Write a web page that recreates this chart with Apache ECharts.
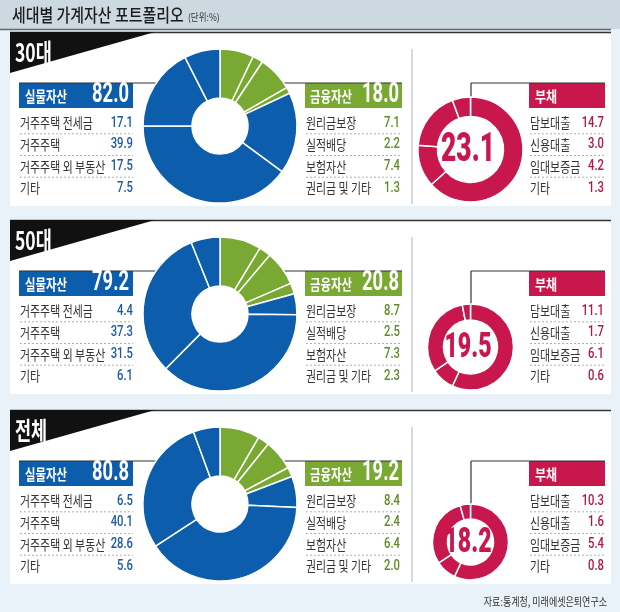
<!DOCTYPE html>
<html>
<head>
<meta charset="utf-8">
<script src="https://cdn.jsdelivr.net/npm/echarts@6/dist/echarts.min.js"></script>
<style>
  html, body { margin: 0; padding: 0; background: #e9f2f8; }
  #main { width: 620px; height: 612px; }
</style>
</head>
<body>
<div id="main"></div>
<script>
// data
var groups = ['30대', '50대', '전체'];
var realLabels = ['거주주택 전세금', '거주주택', '거주주택 외 부동산', '기타'];
var finLabels = ['원리금보장', '실적배당', '보험자산', '권리금 및 기타'];
var debtLabels = ['담보대출', '신용대출', '임대보증금', '기타'];
var realTotal = [82.0, 79.2, 80.8];
var finTotal = [18.0, 20.8, 19.2];
var debtTotal = [23.1, 19.5, 18.2];
var realValues = [[17.1, 39.9, 17.5, 7.5], [4.4, 37.3, 31.5, 6.1], [6.5, 40.1, 28.6, 5.6]];
var finValues = [[7.1, 2.2, 7.4, 1.3], [8.7, 2.5, 7.3, 2.3], [8.4, 2.4, 6.4, 2.0]];
var debtValues = [[14.7, 3.0, 4.2, 1.3], [11.1, 1.7, 6.1, 0.6], [10.3, 1.6, 5.4, 0.8]];

// layout
var BLUE = '#0c5dab', GREEN = '#79a833', RED = '#c8174c';
var panelTop = [32, 220, 410];
var debtR = [[33, 52.5], [27, 43], [23, 38]];
var debtFont = [40, 35, 35];
var KR = '"Noto Sans CJK KR", "Noto Sans", sans-serif';
var NUM = 'Roboto, "Noto Sans", sans-serif';

var chartDom = document.getElementById('main');
var myChart = echarts.init(chartDom);
var option;

var g = [];
var series = [];

function txt(x, y, s, o) {
  o = o || {};
  var sx = o.sx || 1;
  g.push({
    type: 'text', x: x, y: y, z: 10,
    scaleX: sx, scaleY: 1, scale: [sx, 1], originX: 0, originY: 0,
    style: {
      x: 0, y: 0, text: s,
      fill: o.color || '#333',
      font: (o.weight || 'normal') + ' ' + (o.size || 14) + 'px ' + (o.family || KR),
      textAlign: o.align || 'left',
      textVerticalAlign: 'middle'
    }
  });
}
function line(x1, y1, x2, y2, color, w, dash) {
  g.push({
    type: 'line', z: 6,
    shape: { x1: x1, y1: y1, x2: x2, y2: y2 },
    style: { stroke: color, lineWidth: w, lineDash: dash || null }
  });
}
function rect(x, y, w, h, fill, z) {
  g.push({ type: 'rect', z: z || 1, shape: { x: x, y: y, width: w, height: h }, style: { fill: fill } });
}

// title band
rect(0, 0, 620, 29, '#cdd9e0');
line(0, 29.5, 611, 29.5, '#666', 1.5);
txt(12, 15, '세대별 가계자산 포트폴리오', { size: 18, color: '#1c1c1c', weight: 500, sx: 0.83 });
txt(188, 17, '(단위:%)', { size: 10, color: '#333', sx: 0.85 });

function table(x1, x2, T, labels, vals, vcolor) {
  for (var k = 0; k < labels.length; k++) {
    var y = T + 91 + k * 21.7;
    txt(x1, y, labels[k], { size: 14, color: '#333', sx: 0.78 });
    txt(x2, y, vals[k].toFixed(1), { size: 15, color: vcolor, weight: 500, family: NUM, sx: 0.75, align: 'right' });
    if (k < labels.length - 1) line(x1, y + 10.8, x2, y + 10.8, '#b0b0b0', 1, [2, 2]);
  }
}

for (var i = 0; i < groups.length; i++) {
  var T = panelTop[i];
  var cy = T + 94;
  rect(10, T, 601, 174, '#ffffff', 0);
  line(10, T + 0.5, 611, T + 0.5, '#333', 1.5);
  g.push({ type: 'polygon', z: 7, shape: { points: [[10, T], [155, T], [10, T + 41]] }, style: { fill: '#111' } });
  txt(15, T + 20, groups[i], { size: 25, color: '#fff', weight: 'bold', sx: 0.7 });

  // real assets box
  line(19, T + 51, 156, T + 51, '#333', 1.2);
  rect(19, T + 51, 114, 25, BLUE, 5);
  txt(25, T + 64, '실물자산', { size: 15, color: '#fff', weight: 'bold', sx: 0.76 });
  txt(129, T + 63.5, realTotal[i].toFixed(1), { size: 27, color: '#fff', weight: 'bold', family: NUM, sx: 0.68, align: 'right' });
  table(20, 133, T, realLabels, realValues[i], '#1a5aa6');

  // financial assets box
  line(284, T + 51, 402, T + 51, '#333', 1.2);
  rect(305, T + 51, 97, 25, GREEN, 5);
  txt(310, T + 64, '금융자산', { size: 15, color: '#fff', weight: 'bold', sx: 0.76 });
  txt(399, T + 63.5, finTotal[i].toFixed(1), { size: 27, color: '#fff', weight: 'bold', family: NUM, sx: 0.68, align: 'right' });
  table(306, 400, T, finLabels, finValues[i], '#5c8c26');

  // separator
  line(412, T + 17, 412, T + 172, '#c5ced6', 1.5);

  // debt
  var dr = debtR[i];
  var dcy = T + 170 - dr[1];
  line(471, T + 51, 605, T + 51, '#333', 1.2);
  line(471, T + 51, 471, dcy - dr[1] + 1, '#333', 1.2);
  rect(529, T + 51, 76, 25, RED, 5);
  txt(535, T + 64, '부채', { size: 15, color: '#fff', weight: 'bold', sx: 0.8 });
  table(530, 604, T, debtLabels, debtValues[i], '#b3154a');
  txt(468, dcy + 1, debtTotal[i].toFixed(1), { size: debtFont[i], color: RED, weight: 900, family: NUM, sx: 0.66, align: 'center' });

  var assetData = [];
  finValues[i].forEach(function (v, k) { assetData.push({ name: finLabels[k], value: v, itemStyle: { color: GREEN } }); });
  realValues[i].forEach(function (v, k) { assetData.push({ name: realLabels[k], value: v, itemStyle: { color: BLUE } }); });
  series.push({
    type: 'pie', silent: true, z: 8,
    center: [220, cy], radius: [28, 77],
    startAngle: 90, clockwise: true, animation: false,
    label: { show: false }, labelLine: { show: false },
    itemStyle: { borderColor: '#fff', borderWidth: 1.5 },
    data: assetData
  });
  series.push({
    type: 'pie', silent: true, z: 8,
    center: [470.5, dcy], radius: dr,
    startAngle: 90, clockwise: true, animation: false,
    label: { show: false }, labelLine: { show: false },
    itemStyle: { borderColor: '#fff', borderWidth: 1.5, color: RED },
    data: debtValues[i].map(function (v, k) { return { name: debtLabels[k], value: v }; })
  });
}

txt(607, 602, '자료:통계청, 미래에셋은퇴연구소', { size: 11, color: '#333', sx: 0.82, align: 'right' });

option = {
  backgroundColor: '#e9f2f8',
  animation: false,
  graphic: { elements: g },
  series: series
};

option && myChart.setOption(option);
</script>
</body>
</html>
